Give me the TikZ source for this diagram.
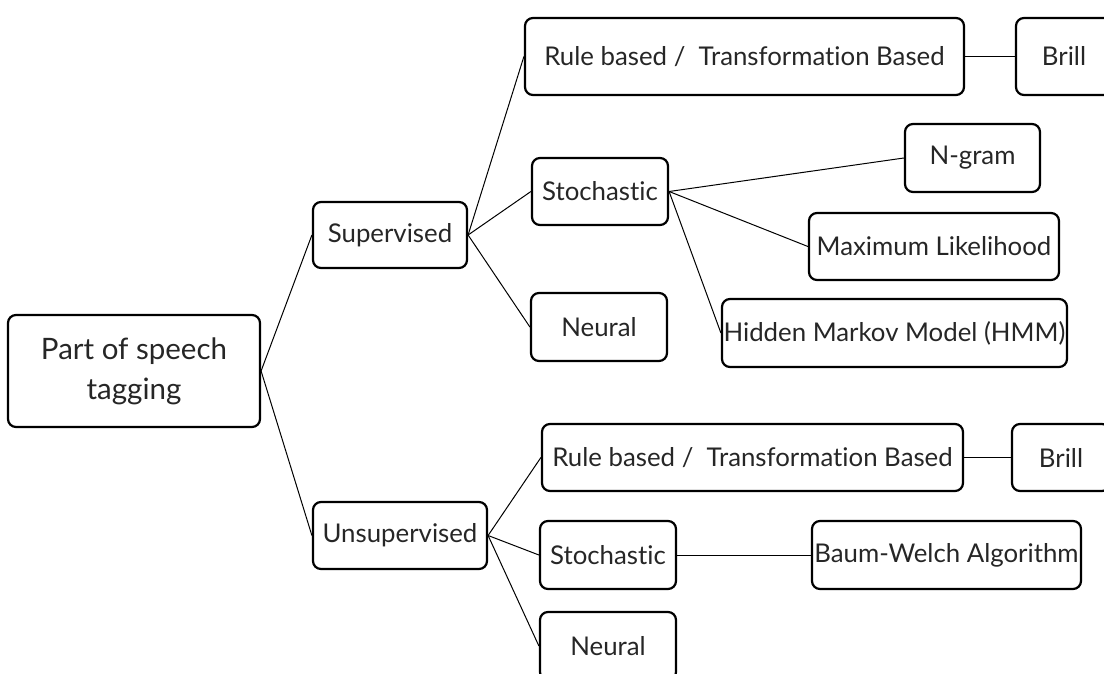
\documentclass[tikz,border=0pt]{standalone}
\usepackage{fontspec}
\setmainfont{Lato}[Ligatures={NoCommon}]
\begin{document}
\begin{tikzpicture}[x=1pt,y=-1pt,
  box/.style={draw=black, line width=2.2pt, rounded corners=8pt, inner sep=0pt,
    text=black!85, font=\fontsize{25.8}{30}\selectfont, align=center},
  link/.style={draw=black, line width=1pt}]
\useasboundingbox (0,0) rectangle (1104,674);
\clip (0,0) rectangle (1104,674);

% root
\node[box, minimum width=252pt, minimum height=112pt,
  font=\fontsize{29.5}{40}\selectfont] (root) at (134,371) {Part of speech\\tagging};

% supervised branch
\node[box, minimum width=154pt, minimum height=66pt] (sup) at (390,235) {Supervised};
\node[box, minimum width=439pt, minimum height=77pt] (rule1) at (744.5,56.5) {Rule based /~~Transformation Based};
\node[box, minimum width=96pt, minimum height=77pt] (brill1) at (1064,56.5) {Brill};
\node[box, minimum width=136pt, minimum height=67pt] (stoch1) at (600,191.5) {Stochastic};
\node[box, minimum width=136pt, minimum height=68pt] (neural1) at (599,327) {Neural};
\node[box, minimum width=135pt, minimum height=68pt] (ngram) at (972.5,158) {N-gram};
\node[box, minimum width=250pt, minimum height=67pt] (ml) at (934,246.5) {Maximum Likelihood};
\node[box, minimum width=345pt, minimum height=68pt] (hmm) at (894.5,333) {Hidden Markov Model (HMM)};

% unsupervised branch
\node[box, minimum width=174pt, minimum height=67pt] (unsup) at (400,535.5) {Unsupervised};
\node[box, minimum width=421pt, minimum height=67pt] (rule2) at (752.5,457.5) {Rule based /~~Transformation Based};
\node[box, minimum width=98pt, minimum height=67pt] (brill2) at (1061,457.5) {Brill};
\node[box, minimum width=136pt, minimum height=68pt] (stoch2) at (608,555) {Stochastic};
\node[box, minimum width=136pt, minimum height=68pt] (neural2) at (608,646) {Neural};
\node[box, minimum width=269pt, minimum height=68pt] (bw) at (946.5,555) {Baum-Welch Algorithm};

% connectors
\draw[link] (root.east) -- (sup.west);
\draw[link] (root.east) -- (unsup.west);
\draw[link] (sup.east) -- (rule1.west);
\draw[link] (sup.east) -- (stoch1.west);
\draw[link] (sup.east) -- (neural1.west);
\draw[link] (rule1.east) -- (brill1.west);
\draw[link] (stoch1.east) -- (ngram.west);
\draw[link] (stoch1.east) -- (ml.west);
\draw[link] (stoch1.east) -- (hmm.west);
\draw[link] (unsup.east) -- (rule2.west);
\draw[link] (unsup.east) -- (stoch2.west);
\draw[link] (unsup.east) -- (neural2.west);
\draw[link] (rule2.east) -- (brill2.west);
\draw[link] (stoch2.east) -- (bw.west);
\end{tikzpicture}
\end{document}
